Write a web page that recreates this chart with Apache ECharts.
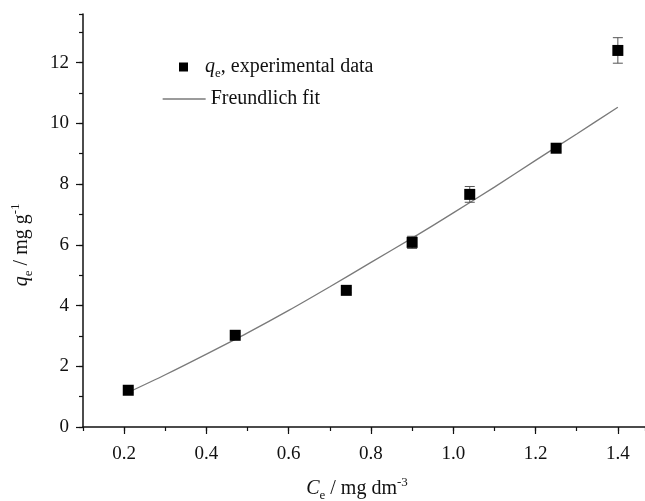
<!DOCTYPE html>
<html>
<head>
<meta charset="utf-8">
<script src="https://cdn.jsdelivr.net/npm/echarts@6/dist/echarts.min.js"></script>
<style>
  html, body { margin: 0; padding: 0; background: #fff; }
  #chart { width: 645px; height: 501px; }
</style>
</head>
<body>
<div id="chart"></div>
<script>
var ceValues = [0.21, 0.47, 0.74, 0.90, 1.04, 1.25, 1.40];
var qeValues = [1.21, 3.02, 4.50, 6.08, 7.66, 9.18, 12.40];
var qeErrors = [0.08, 0.08, 0.08, 0.20, 0.26, 0.10, 0.42];

// Freundlich fit curve
var fitCe = [0.21, 0.30, 0.40, 0.50, 0.60, 0.70, 0.80, 0.90, 1.00, 1.10, 1.20, 1.30, 1.40];
var fitQe = [1.14, 1.72, 2.40, 3.10, 3.84, 4.62, 5.42, 6.22, 7.05, 7.90, 8.78, 9.65, 10.53];

var xLabels = [0.2, 0.4, 0.6, 0.8, 1.0, 1.2, 1.4];
var yLabels = [0, 2, 4, 6, 8, 10, 12];

var expName = 'qe, experimental data';
var fitName = 'Freundlich fit';

// layout
var W = 645, H = 501;
var gridA = { left: 83, right: 0, top: 14, bottom: 74 };
var xMin = 0.1, xMax = 1.466, yMin = 0, yMax = 13.6;
var pxX = (W - gridA.left - gridA.right) / (xMax - xMin);
var pxY = (H - gridA.top - gridA.bottom) / (yMax - yMin);
var xLabMin = xLabels[0], xLabMax = xLabels[xLabels.length - 1];
var yLabMax = yLabels[yLabels.length - 1];
var gridB = {
  left: gridA.left + (xLabMin - xMin) * pxX,
  right: gridA.right + (xMax - xLabMax) * pxX,
  top: gridA.top + (yMax - yLabMax) * pxY,
  bottom: gridA.bottom
};

var font = 'Liberation Serif';
var ink = '#111';

var expData = ceValues.map(function (c, i) { return [c, qeValues[i]]; });
var errData = ceValues.map(function (c, i) { return [c, qeValues[i] - qeErrors[i], qeValues[i] + qeErrors[i]]; });
var fitData = fitCe.map(function (c, i) { return [c, fitQe[i]]; });

var chart = echarts.init(document.getElementById('chart'), null, { renderer: 'canvas' });

var subStyle = { fontFamily: font, fontSize: 13, color: ink, verticalAlign: 'bottom', padding: [13, 0, 0, 0] };
var supStyle = { fontFamily: font, fontSize: 13, color: ink, verticalAlign: 'top', padding: [0, 0, 10, 0] };

var option = {
  backgroundColor: '#fff',
  animation: false,
  textStyle: { fontFamily: font },
  grid: [
    { left: gridA.left, right: gridA.right, top: gridA.top, bottom: gridA.bottom, outerBoundsMode: 'none' },
    { left: gridB.left, right: gridB.right, top: gridB.top, bottom: gridB.bottom, outerBoundsMode: 'none' }
  ],
  legend: [
    {
      data: [{ name: expName, icon: 'rect' }],
      left: 179, top: 57, padding: 0,
      itemWidth: 9, itemHeight: 9,
      itemStyle: { color: '#000', opacity: 1 },
      formatter: function () {
        return '{q|q}{sub|e}{n|, experimental data}';
      },
      textStyle: {
        fontFamily: font, color: ink, fontSize: 20,
        rich: {
          q: { fontFamily: font, fontStyle: 'italic', fontSize: 20, color: ink, padding: [0, 0, 0, 12] },
          sub: subStyle,
          n: { fontFamily: font, fontSize: 20, color: ink }
        }
      }
    },
    {
      data: [fitName],
      left: 162, top: 89, padding: 0,
      itemWidth: 43, itemHeight: 12,
      itemStyle: { color: 'rgba(0,0,0,0)', borderWidth: 0 },
      lineStyle: { color: '#7a7a7a', width: 1.3 },
      textStyle: { fontFamily: font, color: ink, fontSize: 20 }
    }
  ],
  xAxis: [
    {
      gridIndex: 0, type: 'value', min: xMin, max: xMax, interval: 0.1,
      axisLine: { show: true, onZero: false, lineStyle: { color: ink, width: 1.5 } },
      axisTick: { show: true, length: 4, lineStyle: { color: ink, width: 1.2 } },
      axisLabel: { show: false },
      splitLine: { show: false }
    },
    {
      gridIndex: 1, type: 'value', min: xLabMin, max: xLabMax, interval: 0.2,
      axisLine: { show: false, onZero: false },
      axisTick: { show: true, length: 7, lineStyle: { color: ink, width: 1.2 } },
      axisLabel: {
        show: true, margin: 18, color: ink, fontFamily: font, fontSize: 19,
        formatter: function (v) { return v.toFixed(1); }
      },
      splitLine: { show: false },
      name: '{c|C}{sub|e}{n| / mg dm}{sup|-3}',
      nameLocation: 'middle', nameGap: 49,
      nameTextStyle: {
        color: ink, fontFamily: font, fontSize: 20, padding: [0, 28, 0, 0],
        rich: {
          c: { fontFamily: font, fontStyle: 'italic', fontSize: 20, color: ink },
          sub: subStyle,
          n: { fontFamily: font, fontSize: 20, color: ink },
          sup: supStyle
        }
      }
    }
  ],
  yAxis: [
    {
      gridIndex: 0, type: 'value', min: yMin, max: yMax, interval: 1,
      axisLine: { show: true, onZero: false, lineStyle: { color: ink, width: 1.5 } },
      axisTick: { show: true, length: 4, lineStyle: { color: ink, width: 1.2 } },
      axisLabel: { show: false },
      splitLine: { show: false }
    },
    {
      gridIndex: 1, type: 'value', min: 0, max: yLabMax, interval: 2,
      offset: gridB.left - gridA.left,
      axisLine: { show: false, onZero: false },
      axisTick: { show: true, length: 7, lineStyle: { color: ink, width: 1.2 } },
      axisLabel: { show: true, margin: 14, color: ink, fontFamily: font, fontSize: 19 },
      splitLine: { show: false },
      name: '{q|q}{sub|e}{n| / mg g}{sup|-1}',
      nameLocation: 'middle', nameGap: 48,
      nameTextStyle: {
        color: ink, fontFamily: font, fontSize: 20,
        rich: {
          q: { fontFamily: font, fontStyle: 'italic', fontSize: 20, color: ink },
          sub: subStyle,
          n: { fontFamily: font, fontSize: 20, color: ink },
          sup: supStyle
        }
      }
    }
  ],
  series: [
    {
      name: fitName,
      type: 'line',
      xAxisIndex: 0, yAxisIndex: 0,
      data: fitData,
      smooth: 0.3,
      symbol: 'none',
      lineStyle: { color: '#7a7a7a', width: 1.3 },
      itemStyle: { color: '#7a7a7a' },
      z: 2
    },
    {
      name: 'errors',
      type: 'custom',
      xAxisIndex: 0, yAxisIndex: 0,
      data: errData,
      renderItem: function (params, api) {
        var x = api.value(0);
        var lo = api.coord([x, api.value(1)]);
        var hi = api.coord([x, api.value(2)]);
        var cap = 5;
        var st = { stroke: '#555', lineWidth: 1 };
        return {
          type: 'group',
          children: [
            { type: 'line', shape: { x1: lo[0], y1: lo[1], x2: hi[0], y2: hi[1] }, style: st },
            { type: 'line', shape: { x1: lo[0] - cap, y1: lo[1], x2: lo[0] + cap, y2: lo[1] }, style: st },
            { type: 'line', shape: { x1: hi[0] - cap, y1: hi[1], x2: hi[0] + cap, y2: hi[1] }, style: st }
          ]
        };
      },
      z: 3
    },
    {
      name: expName,
      type: 'scatter',
      xAxisIndex: 0, yAxisIndex: 0,
      data: expData,
      symbol: 'rect',
      symbolSize: 11,
      itemStyle: { color: '#000', opacity: 1 },
      z: 4
    }
  ]
};

chart.setOption(option);
</script>
</body>
</html>
